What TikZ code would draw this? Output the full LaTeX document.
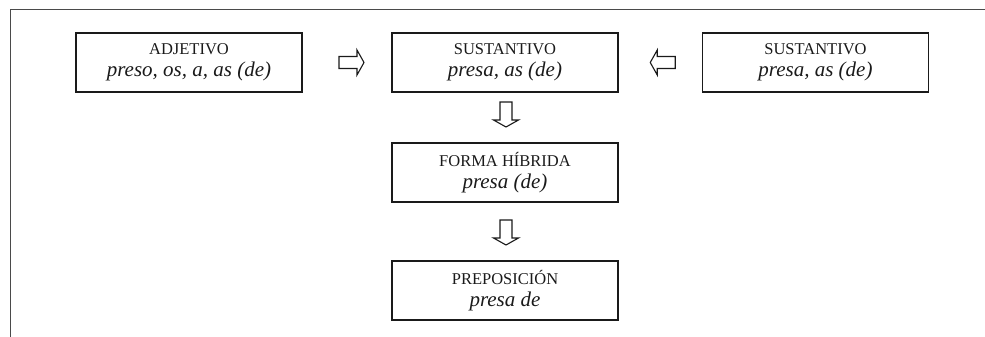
\documentclass[tikz,border=0pt]{standalone}
\usepackage{fontspec}
\setmainfont{Liberation Serif}
\usetikzlibrary{calc}
\definecolor{ink}{HTML}{1A1A1A}
\definecolor{framegray}{HTML}{4A4A4A}
\tikzset{
  wordbox/.style={draw=ink, line width=1.2pt, minimum width=226pt, minimum height=59pt,
    inner sep=0pt, align=center, text=ink, font=\fontsize{16.5}{22}\selectfont},
  blockarrow/.style={draw=ink, line width=1.1pt, fill=white, line join=miter},
  pics/fatarrow/.style={code={
    \draw[blockarrow] (-12.5,-6) -- (5.5,-6) -- (5.5,-12.5) -- (12.5,0) -- (5.5,12.5) -- (5.5,6) -- (-12.5,6) -- cycle;
  }}
}
\newcommand{\lowline}[1]{{\fontsize{21}{22}\selectfont\itshape #1}}
\begin{document}
\begin{tikzpicture}[x=1pt,y=-1pt]
\useasboundingbox (0,0) rectangle (985,337);
% frame
\coordinate (ftl) at (10,10);
\coordinate (ftr) at (985,10);
\coordinate (fbl) at (10,337);
\draw[framegray, line width=1pt] (ftr) -- (ftl) -- (fbl);
% boxes
\node[wordbox] (adj) at (189,62.5) {ADJETIVO\\\lowline{preso, os, a, as (de)}};
\node[wordbox] (sus) at (505,62.5) {SUSTANTIVO\\\lowline{presa, as (de)}};
\node[wordbox] (sus2) at (815.5,62.5) {SUSTANTIVO\\\lowline{presa, as (de)}};
\node[wordbox] (hib) at (505,172.5) {FORMA HÍBRIDA\\\lowline{presa (de)}};
\node[wordbox] (pre) at (505,290.5) {PREPOSICIÓN\\\lowline{presa de}};
% block arrows between boxes
\coordinate (a1) at ($(adj.east)!0.5!(sus.west)+(4.5,0)$);
\coordinate (a2) at ($(sus2.west)!0.5!(sus.east)+(2.5,0)$);
\coordinate (a3) at ($(sus.south)!0.5!(hib.north)+(1,-3)$);
\coordinate (a4) at ($(hib.south)!0.5!(pre.north)+(1,1)$);
\pic at (a1) {fatarrow};
\pic[rotate=180] at (a2) {fatarrow};
\pic[rotate=-90] at (a3) {fatarrow};
\pic[rotate=-90] at (a4) {fatarrow};
\end{tikzpicture}
\end{document}
